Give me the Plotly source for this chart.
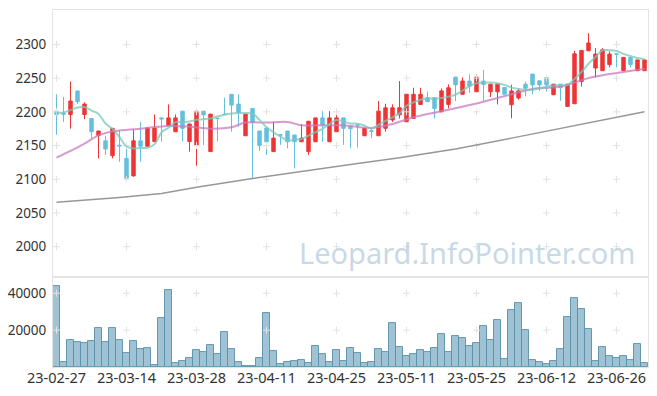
import plotly.graph_objects as go
from plotly.subplots import make_subplots
import pandas as pd

dates = ["23-02-27", "23-02-28", "23-03-02", "23-03-03", "23-03-06", "23-03-07", "23-03-08", "23-03-09",
         "23-03-10", "23-03-13", "23-03-14", "23-03-15", "23-03-16", "23-03-17", "23-03-20", "23-03-21",
         "23-03-22", "23-03-23", "23-03-24", "23-03-27", "23-03-28", "23-03-29", "23-03-30", "23-03-31",
         "23-04-03", "23-04-04", "23-04-05", "23-04-06", "23-04-07", "23-04-10", "23-04-11", "23-04-12",
         "23-04-13", "23-04-14", "23-04-17", "23-04-18", "23-04-19", "23-04-20", "23-04-21", "23-04-24",
         "23-04-25", "23-04-26", "23-04-27", "23-04-28", "23-05-02", "23-05-03", "23-05-04", "23-05-08",
         "23-05-09", "23-05-10", "23-05-11", "23-05-12", "23-05-15", "23-05-16", "23-05-17", "23-05-18",
         "23-05-19", "23-05-22", "23-05-23", "23-05-24", "23-05-25", "23-05-26", "23-05-30", "23-05-31",
         "23-06-01", "23-06-02", "23-06-05", "23-06-07", "23-06-08", "23-06-09", "23-06-12", "23-06-13",
         "23-06-14", "23-06-15", "23-06-16", "23-06-19", "23-06-20", "23-06-21", "23-06-22", "23-06-23",
         "23-06-26", "23-06-27", "23-06-28", "23-06-29", "23-06-30"]

opens = [2201, 2198, 2196, 2231, 2196, 2190, 2165, 2157, 2135, 2150.5,
         2131, 2105, 2157, 2149, 2156, 2191, 2180, 2170.5, 2201, 2156,
         2150, 2201, 2141, 2190.5, 2196.5, 2226, 2211.5, 2164.5, 2205, 2171.5,
         2176, 2141, 2166, 2171.5, 2165.6, 2155.6, 2141, 2155.6, 2191, 2155.6,
         2170.5, 2191, 2178, 2180.5, 2164.5, 2172, 2164.5, 2175.5, 2188, 2195.5,
         2185.3, 2190.3, 2211, 2221, 2221, 2200, 2211, 2251.5, 2226, 2245.6,
         2229.7, 2245.6, 2229.7, 2229.7, 2236, 2210.5, 2220.5, 2241, 2256, 2246,
         2251, 2225.3, 2241, 2208, 2212, 2245, 2290.5, 2265, 2261, 2270,
         2286, 2261, 2280.7, 2261, 2261]
highs = [2226, 2222, 2245, 2231, 2214, 2190, 2172, 2164.5, 2176, 2173,
         2149, 2174, 2185, 2177, 2196, 2191, 2211, 2196, 2201, 2182,
         2202, 2201, 2197, 2190.5, 2221, 2226, 2226, 2196.5, 2205, 2171.5,
         2176, 2185, 2166, 2171.5, 2165.6, 2181.5, 2186.5, 2191, 2201, 2201,
         2201, 2191, 2178, 2180.5, 2175.5, 2175.5, 2216, 2212, 2211, 2245.6,
         2226, 2235.7, 2235.7, 2230, 2221, 2234.7, 2240.7, 2251.5, 2251, 2255.5,
         2255.5, 2262, 2241, 2241, 2236, 2240, 2235, 2245, 2256, 2246,
         2251, 2241, 2241, 2241, 2290.5, 2291, 2316.5, 2294.5, 2294.5, 2289.6,
         2286, 2280.7, 2280.7, 2277, 2277]
lows = [2166, 2185, 2175, 2211.5, 2189, 2161, 2131, 2136, 2131, 2126,
        2101, 2104, 2126, 2148, 2155, 2156, 2180, 2170, 2156, 2141,
        2120, 2151, 2141, 2156, 2196, 2170.5, 2178, 2164.5, 2101.5, 2142,
        2136, 2141, 2151, 2146, 2116, 2155.6, 2136, 2155.6, 2155.6, 2155.6,
        2170.5, 2151, 2146, 2147, 2164.5, 2161, 2164.5, 2170.5, 2185, 2190,
        2185.3, 2190.3, 2211, 2215, 2190.3, 2200, 2205, 2216, 2226, 2228,
        2229.7, 2216, 2222, 2211, 2226, 2190.5, 2218, 2223, 2226, 2231,
        2230, 2225.3, 2216.4, 2208, 2212, 2237.5, 2290.5, 2251, 2261, 2266,
        2266, 2261, 2266, 2261, 2261]
closes = [2196, 2196.5, 2216, 2215, 2211.5, 2170.5, 2171.5, 2145, 2175.5, 2149.5,
          2101.5, 2157, 2149, 2176, 2176, 2189.5, 2191, 2191, 2175.5, 2182,
          2201, 2195.5, 2196.5, 2190, 2196, 2210, 2199, 2196.5, 2185, 2150,
          2155.6, 2161, 2165.5, 2155.6, 2155.6, 2161, 2186, 2191, 2180.5, 2191,
          2191, 2175.5, 2175, 2180, 2175.5, 2171, 2201, 2206, 2206, 2206,
          2226, 2226, 2226, 2215, 2205, 2231, 2235.7, 2240, 2245.6, 2238,
          2251.5, 2240.5, 2241, 2241, 2226, 2231, 2231, 2235, 2240, 2240,
          2240, 2241, 2236, 2241, 2286, 2291, 2302, 2285.6, 2292, 2285.6,
          2285.5, 2280.7, 2270, 2277, 2277]
volumes = [43950, 2700, 14600, 13700, 12970, 14200, 21080, 13700, 21080, 14600,
           7570, 14200, 9900, 10430, 1250, 26480, 41600, 2320, 3400, 5040,
           9370, 8290, 11890, 7200, 19080, 9900, 2860, 300, 700, 5040,
           29350, 8800, 1800, 2860, 3400, 3950, 2320, 11350, 7200, 2860,
           9370, 3400, 10430, 7740, 2320, 2860, 9900, 8290, 23950, 10800,
           6100, 7200, 9370, 8290, 10430, 18000, 8290, 16900, 15800, 11500,
           13100, 22300, 14750, 25550, 4490, 30970, 34750, 20160, 3950, 2860,
           1800, 3400, 9900, 27200, 37450, 31500, 20700, 3400, 10970, 6100,
           5040, 6100, 3950, 12600, 2320]

# 5-day average values read for the first four days (earlier data not shown)
ma5_head = [2198.5, 2199.0, 2202.5, 2206.5]
ma20_idx = [0, 2, 4, 6, 8, 11, 16, 19, 22, 25, 27, 30, 33, 35, 38, 41, 45, 48, 51, 56, 61, 65, 68, 71, 73, 76, 79, 84]
ma20_val = [2132, 2142, 2153, 2165, 2171, 2174, 2179, 2178, 2175, 2177, 2184, 2184, 2185, 2180, 2180, 2180, 2176,
            2182, 2192, 2203, 2215, 2226, 2234, 2236, 2240, 2250, 2256, 2264]
ma60_idx = [0, 9, 15, 20, 28, 37, 42, 49, 57, 65, 71, 78, 84]
ma60_val = [2066, 2073, 2079, 2088, 2101, 2115, 2122, 2132, 2145, 2161, 2173, 2187, 2200]

price_ticks = [2000, 2050, 2100, 2150, 2200, 2250, 2300]
vol_ticks = [20000, 40000]
tick_idx = list(range(0, 85, 10))

ma5 = pd.Series(closes).rolling(5).mean().tolist()
ma5[:4] = ma5_head

fig = make_subplots(rows=2, cols=1, shared_xaxes=True, vertical_spacing=0,
                    row_heights=[0.748, 0.252])

FONT = "Noto Sans"
GRIDC = "#e2e2e2"

# grid crosses
cx, cy = [], []
for i in tick_idx:
    for p in price_ticks:
        cx.append(dates[i]); cy.append(p)
fig.add_trace(go.Scatter(x=cx, y=cy, mode="markers", hoverinfo="skip",
                         marker=dict(symbol="cross-thin", size=5, line=dict(color=GRIDC, width=1))),
              row=1, col=1)
vx, vy = [], []
for i in tick_idx:
    for v in vol_ticks:
        vx.append(dates[i]); vy.append(v)
fig.add_trace(go.Scatter(x=vx, y=vy, mode="markers", hoverinfo="skip",
                         marker=dict(symbol="cross-thin", size=5, line=dict(color=GRIDC, width=1))),
              row=2, col=1)

fig.add_trace(go.Candlestick(x=dates, open=opens, high=highs, low=lows, close=closes,
                             increasing=dict(line=dict(color="#ee3535", width=1), fillcolor="#ee3535"),
                             decreasing=dict(line=dict(color="#64c0dc", width=1), fillcolor="#64c0dc"),
                             whiskerwidth=0),
              row=1, col=1)

fig.add_trace(go.Scatter(x=[dates[i] for i in ma60_idx], y=ma60_val, mode="lines",
                         line=dict(color="rgba(140,140,140,0.9)", width=1.5)), row=1, col=1)
fig.add_trace(go.Scatter(x=[dates[i] for i in ma20_idx], y=ma20_val, mode="lines", line_shape="spline",
                         line=dict(color="rgba(200,120,190,0.75)", width=2)), row=1, col=1)
fig.add_trace(go.Scatter(x=dates, y=ma5, mode="lines", line_shape="spline",
                         line=dict(color="rgba(120,200,185,0.75)", width=2)), row=1, col=1)

fig.add_trace(go.Bar(x=dates, y=volumes,
                     marker=dict(color="rgba(135,180,202,0.8)", line=dict(color="rgba(90,145,170,0.9)", width=1))),
              row=2, col=1)

fig.update_layout(
    width=657, height=396,
    margin=dict(l=53, r=9, t=10, b=29, autoexpand=False),
    paper_bgcolor="white", plot_bgcolor="white",
    showlegend=False, bargap=0,
    font=dict(family=FONT, size=13, color="#333333"),
    annotations=[dict(text="Leopard.InfoPointer.com", xref="paper", yref="paper",
                      x=0.697, y=0.32, xanchor="center", yanchor="middle", showarrow=False,
                      font=dict(family=FONT, size=29, color="rgba(185,207,223,0.8)"))],
)

axis_common = dict(showgrid=False, zeroline=False, showline=True, linecolor="#e3e3e3",
                   linewidth=1, mirror=True, automargin=False)
fig.update_xaxes(type="category", categoryorder="array", categoryarray=dates,
                 range=[-0.5, 84.5], rangeslider_visible=False, **axis_common)
fig.update_xaxes(showticklabels=False, row=1, col=1)
fig.update_xaxes(tickmode="array", tickvals=[dates[i] for i in tick_idx],
                 ticktext=[dates[i] for i in tick_idx], tickangle=0,
                 ticks="", ticklabelstandoff=-2,
                 tickfont=dict(size=14.5, color="#333333"), row=2, col=1)
fig.update_yaxes(range=[1955, 2351], tickmode="array", tickvals=price_ticks,
                 ticks="outside", ticklen=3, tickcolor="rgba(0,0,0,0)",
                 tickfont=dict(size=13.5, color="#333333"), row=1, col=1, **axis_common)
fig.update_yaxes(range=[0, 48800], tickmode="array", tickvals=vol_ticks, tickformat="d",
                 ticks="outside", ticklen=3, tickcolor="rgba(0,0,0,0)",
                 tickfont=dict(size=13.5, color="#333333"), row=2, col=1, **axis_common)

fig.write_html("out.html", config={"displayModeBar": False},
               post_script="document.body.style.margin='0px';document.body.style.padding='0px';")
